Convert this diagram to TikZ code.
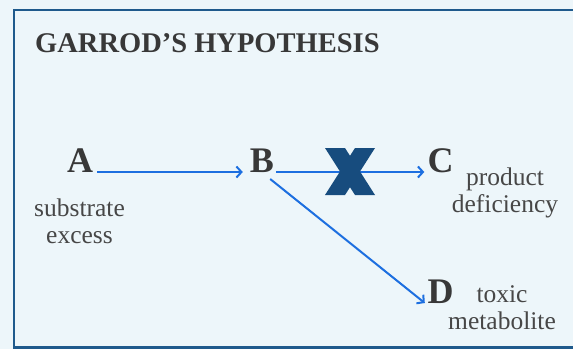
\documentclass[tikz,border=0pt]{standalone}
\usepackage{fontspec}
\setmainfont{Liberation Serif}
\usetikzlibrary{arrows.meta}
\definecolor{SlideBack}{HTML}{EDF6FA}
\definecolor{SlideFrame}{HTML}{1F5A8C}
\definecolor{SlideInk}{HTML}{383838}
\definecolor{SlideNote}{HTML}{474747}
\definecolor{SlideArrow}{HTML}{1D6FE0}
\definecolor{SlideBlock}{HTML}{174C7E}

\begin{document}
\begin{tikzpicture}[x=1pt,y=-1pt,
  metab/.style={anchor=base,inner sep=0,text=SlideInk,font=\fontsize{36}{40}\selectfont\bfseries},
  note/.style={anchor=base,inner sep=0,align=center,text=SlideNote,font=\fontsize{25.5}{27}\selectfont},
  flow/.style={draw=SlideArrow,line width=2pt,-{Straight Barb[length=5pt,width=11pt]}}]
  \useasboundingbox (0,0) rectangle (573,349);
  \fill[SlideBack] (0,0) rectangle (573,349);
  \draw[SlideFrame,line width=2.5pt] (573,10) -- (14,10) -- (14,347.5) -- (573,347.5);
  \node[anchor=base west,inner sep=0,text=SlideInk,font=\fontsize{28.5}{34}\selectfont\bfseries] (title) at (35,52) {GARROD'S HYPOTHESIS};
  % the four metabolites
  \foreach \name/\x/\y in {A/80/172,B/262/172,C/440.5/172,D/440.5/303}
    \node[metab] (\name) at (\x,\y) {\name};
  % base of a two-line note is its second line
  \node[note] (excess) at (79.5,243) {substrate\\excess};
  \node[note] (deficiency) at (505,212.5) {product\\deficiency};
  \node[note] (toxic) at (502,329) {toxic\\metabolite};
  % pathway
  \draw[flow] ([xshift=4pt]A.base east) -- ([xshift=-7pt]B.base west);
  \draw[flow] ([xshift=2pt]B.base east) -- ([xshift=-3pt]C.base west);
  \draw[flow] ([xshift=-4pt,yshift=-7pt]B.base east) -- ([xshift=-2.5pt]D.base west);
  % blocked step
  \coordinate (block) at (350,171.5);
  \fill[SlideBlock,shift={(block)}] (-25,-23.5) -- (-5,-23.5) -- (0,-15.7) -- (5,-23.5) -- (25,-23.5)
    -- (10,0) -- (25,23.5) -- (5,23.5) -- (0,15.7) -- (-5,23.5) -- (-25,23.5) -- (-10,0) -- cycle;
\end{tikzpicture}
\end{document}
